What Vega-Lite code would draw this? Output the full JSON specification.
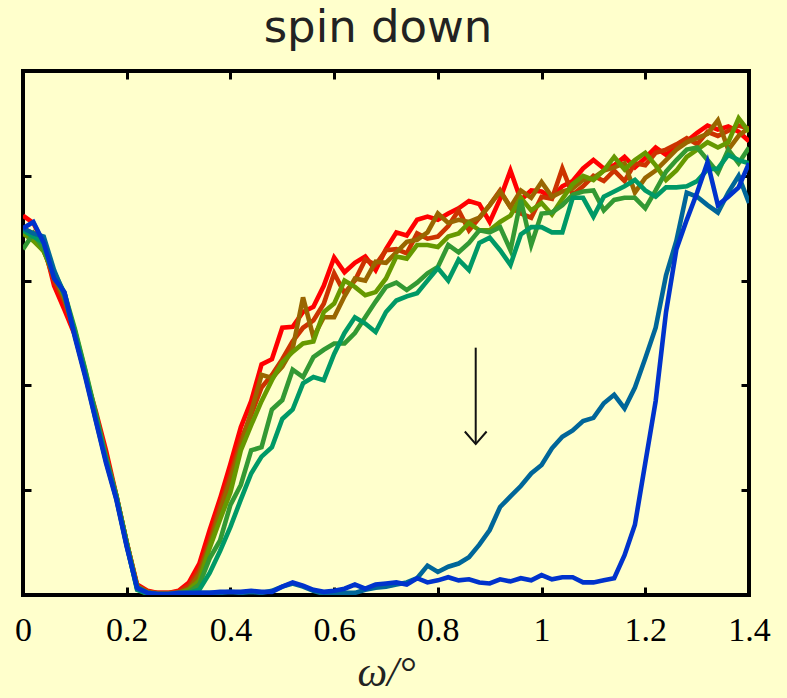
{
  "$schema": "https://vega.github.io/schema/vega-lite/v6.json",
  "width": 726,
  "height": 524,
  "autosize": {"type": "none"},
  "padding": {"left": 23, "top": 71, "right": 38, "bottom": 103},
  "background": "#FFFFCC",
  "config": {
    "view": {"stroke": "#000000", "strokeWidth": 4},
    "axis": {"grid": false, "domain": false, "tickColor": "#000000", "tickWidth": 3, "tickSize": -8}
  },
  "title": {"text": "spin down", "font": "DejaVu Sans", "fontSize": 45, "fontWeight": "normal", "color": "#222222", "baseline": "alphabetic", "offset": -17, "anchor": "middle", "dx": -8},
  "datasets": {
    "curves": [
      {"x":0.00,"s1":3.62,"s2":3.5,"s3":3.45,"s4":3.45,"s5":3.3,"s6":3.48,"s7":3.5,"s8":3.5},
      {"x":0.02,"s1":3.55,"s2":3.45,"s3":3.4,"s4":3.38,"s5":3.45,"s6":3.42,"s7":3.45,"s8":3.56},
      {"x":0.04,"s1":3.35,"s2":3.3,"s3":3.28,"s4":3.28,"s5":3.3,"s6":3.36,"s7":3.42,"s8":3.36},
      {"x":0.06,"s1":2.95,"s2":3.0,"s3":3.05,"s4":3.05,"s5":3.05,"s6":3.08,"s7":3.1,"s8":3.02},
      {"x":0.08,"s1":2.72,"s2":2.8,"s3":2.82,"s4":2.85,"s5":2.88,"s6":2.88,"s7":2.86,"s8":2.89},
      {"x":0.10,"s1":2.48,"s2":2.5,"s3":2.52,"s4":2.52,"s5":2.54,"s6":2.5,"s7":2.48,"s8":2.46},
      {"x":0.12,"s1":2.1,"s2":2.12,"s3":2.12,"s4":2.14,"s5":2.15,"s6":2.12,"s7":2.1,"s8":2.08},
      {"x":0.14,"s1":1.76,"s2":1.72,"s3":1.72,"s4":1.72,"s5":1.74,"s6":1.7,"s7":1.68,"s8":1.67},
      {"x":0.16,"s1":1.38,"s2":1.33,"s3":1.3,"s4":1.3,"s5":1.32,"s6":1.29,"s7":1.28,"s8":1.26},
      {"x":0.18,"s1":0.95,"s2":0.95,"s3":0.94,"s4":0.94,"s5":0.95,"s6":0.93,"s7":0.92,"s8":0.91},
      {"x":0.20,"s1":0.5,"s2":0.5,"s3":0.5,"s4":0.49,"s5":0.5,"s6":0.48,"s7":0.47,"s8":0.46},
      {"x":0.22,"s1":0.1,"s2":0.09,"s3":0.08,"s4":0.08,"s5":0.07,"s6":0.05,"s7":0.06,"s8":0.07},
      {"x":0.24,"s1":0.04,"s2":0.03,"s3":0.03,"s4":0.02,"s5":0.01,"s6":0.01,"s7":0.02,"s8":0.02},
      {"x":0.26,"s1":0.02,"s2":0.02,"s3":0.01,"s4":0.01,"s5":0,"s6":0,"s7":0.01,"s8":0.01},
      {"x":0.28,"s1":0.02,"s2":0.02,"s3":0.01,"s4":0.01,"s5":0,"s6":0,"s7":0.01,"s8":0.01},
      {"x":0.30,"s1":0.04,"s2":0.03,"s3":0.02,"s4":0.02,"s5":0.01,"s6":0,"s7":0.01,"s8":0.02},
      {"x":0.32,"s1":0.12,"s2":0.09,"s3":0.06,"s4":0.05,"s5":0.03,"s6":0.02,"s7":0.01,"s8":0.02},
      {"x":0.34,"s1":0.3,"s2":0.24,"s3":0.2,"s4":0.14,"s5":0.1,"s6":0.05,"s7":0.02,"s8":0.02},
      {"x":0.36,"s1":0.62,"s2":0.52,"s3":0.48,"s4":0.45,"s5":0.35,"s6":0.21,"s7":0.02,"s8":0.02},
      {"x":0.38,"s1":0.92,"s2":0.85,"s3":0.8,"s4":0.72,"s5":0.52,"s6":0.42,"s7":0.02,"s8":0.03},
      {"x":0.40,"s1":1.25,"s2":1.15,"s3":1.1,"s4":0.98,"s5":0.86,"s6":0.65,"s7":0.03,"s8":0.03},
      {"x":0.42,"s1":1.6,"s2":1.48,"s3":1.42,"s4":1.38,"s5":1.05,"s6":0.91,"s7":0.02,"s8":0.03},
      {"x":0.44,"s1":1.85,"s2":1.72,"s3":1.75,"s4":1.62,"s5":1.38,"s6":1.16,"s7":0.03,"s8":0.04},
      {"x":0.46,"s1":2.2,"s2":1.98,"s3":2.1,"s4":1.85,"s5":1.41,"s6":1.32,"s7":0.02,"s8":0.03},
      {"x":0.48,"s1":2.25,"s2":2.1,"s3":2.07,"s4":2.05,"s5":1.77,"s6":1.41,"s7":0.04,"s8":0.03},
      {"x":0.50,"s1":2.55,"s2":2.25,"s3":2.18,"s4":2.22,"s5":1.86,"s6":1.68,"s7":0.08,"s8":0.08},
      {"x":0.52,"s1":2.56,"s2":2.42,"s3":2.35,"s4":2.32,"s5":2.15,"s6":1.77,"s7":0.11,"s8":0.12},
      {"x":0.54,"s1":2.7,"s2":2.55,"s3":2.84,"s4":2.4,"s5":2.08,"s6":2.02,"s7":0.08,"s8":0.09},
      {"x":0.56,"s1":2.75,"s2":2.62,"s3":2.46,"s4":2.42,"s5":2.27,"s6":2.08,"s7":0.04,"s8":0.05},
      {"x":0.58,"s1":2.95,"s2":2.78,"s3":2.65,"s4":2.7,"s5":2.34,"s6":2.05,"s7":0.01,"s8":0.03},
      {"x":0.60,"s1":3.22,"s2":3.07,"s3":2.65,"s4":2.78,"s5":2.4,"s6":2.3,"s7":0.01,"s8":0.04},
      {"x":0.62,"s1":3.08,"s2":2.88,"s3":2.85,"s4":3.0,"s5":2.4,"s6":2.5,"s7":0.02,"s8":0.06},
      {"x":0.64,"s1":3.17,"s2":3.0,"s3":3.02,"s4":2.94,"s5":2.5,"s6":2.65,"s7":0.02,"s8":0.1},
      {"x":0.66,"s1":3.23,"s2":3.2,"s3":3.0,"s4":2.86,"s5":2.65,"s6":2.59,"s7":0.05,"s8":0.06},
      {"x":0.68,"s1":3.1,"s2":3.15,"s3":3.18,"s4":2.89,"s5":2.8,"s6":2.51,"s7":0.07,"s8":0.1},
      {"x":0.70,"s1":3.3,"s2":3.29,"s3":3.17,"s4":3.02,"s5":2.94,"s6":2.7,"s7":0.08,"s8":0.11},
      {"x":0.72,"s1":3.46,"s2":3.3,"s3":3.27,"s4":3.23,"s5":2.98,"s6":2.81,"s7":0.1,"s8":0.12},
      {"x":0.74,"s1":3.43,"s2":3.26,"s3":3.37,"s4":3.21,"s5":2.91,"s6":2.85,"s7":0.12,"s8":0.1},
      {"x":0.76,"s1":3.58,"s2":3.45,"s3":3.39,"s4":3.34,"s5":2.98,"s6":2.88,"s7":0.16,"s8":0.16},
      {"x":0.78,"s1":3.61,"s2":3.4,"s3":3.46,"s4":3.34,"s5":3.07,"s6":3.0,"s7":0.28,"s8":0.12},
      {"x":0.80,"s1":3.58,"s2":3.42,"s3":3.64,"s4":3.32,"s5":3.13,"s6":3.12,"s7":0.22,"s8":0.14},
      {"x":0.82,"s1":3.64,"s2":3.52,"s3":3.55,"s4":3.42,"s5":3.34,"s6":3.0,"s7":0.27,"s8":0.17},
      {"x":0.84,"s1":3.69,"s2":3.67,"s3":3.58,"s4":3.45,"s5":3.27,"s6":3.2,"s7":0.3,"s8":0.14},
      {"x":0.86,"s1":3.76,"s2":3.48,"s3":3.56,"s4":3.55,"s5":3.36,"s6":3.1,"s7":0.36,"s8":0.15},
      {"x":0.88,"s1":3.73,"s2":3.6,"s3":3.6,"s4":3.48,"s5":3.48,"s6":3.36,"s7":0.48,"s8":0.12},
      {"x":0.90,"s1":3.56,"s2":3.72,"s3":3.72,"s4":3.48,"s5":3.46,"s6":3.41,"s7":0.62,"s8":0.11},
      {"x":0.92,"s1":3.78,"s2":3.86,"s3":3.85,"s4":3.56,"s5":3.51,"s6":3.29,"s7":0.84,"s8":0.15},
      {"x":0.94,"s1":4.05,"s2":3.7,"s3":3.7,"s4":3.62,"s5":3.29,"s6":3.15,"s7":0.94,"s8":0.13},
      {"x":0.96,"s1":3.77,"s2":3.64,"s3":3.86,"s4":3.79,"s5":3.77,"s6":3.44,"s7":1.04,"s8":0.16},
      {"x":0.98,"s1":3.86,"s2":3.6,"s3":3.79,"s4":3.67,"s5":3.34,"s6":3.51,"s7":1.16,"s8":0.14},
      {"x":1.00,"s1":3.85,"s2":3.8,"s3":3.94,"s4":3.74,"s5":3.64,"s6":3.51,"s7":1.24,"s8":0.19},
      {"x":1.02,"s1":3.79,"s2":3.78,"s3":3.8,"s4":3.63,"s5":3.65,"s6":3.46,"s7":1.4,"s8":0.15},
      {"x":1.04,"s1":3.9,"s2":4.07,"s3":3.85,"s4":3.78,"s5":3.72,"s6":3.46,"s7":1.51,"s8":0.17},
      {"x":1.06,"s1":3.95,"s2":3.82,"s3":3.88,"s4":3.92,"s5":3.82,"s6":3.79,"s7":1.57,"s8":0.17},
      {"x":1.08,"s1":4.07,"s2":3.9,"s3":3.96,"s4":4.0,"s5":3.85,"s6":3.79,"s7":1.66,"s8":0.12},
      {"x":1.10,"s1":4.15,"s2":4.0,"s3":3.98,"s4":3.96,"s5":3.86,"s6":3.61,"s7":1.69,"s8":0.12},
      {"x":1.12,"s1":4.07,"s2":3.95,"s3":4.05,"s4":4.05,"s5":3.67,"s6":3.8,"s7":1.83,"s8":0.14},
      {"x":1.14,"s1":4.1,"s2":4.05,"s3":4.08,"s4":4.18,"s5":3.77,"s6":3.85,"s7":1.91,"s8":0.16},
      {"x":1.16,"s1":4.18,"s2":3.95,"s3":4.12,"s4":4.06,"s5":3.79,"s6":3.9,"s7":1.78,"s8":0.38},
      {"x":1.18,"s1":4.08,"s2":4.12,"s3":3.84,"s4":4.15,"s5":3.79,"s6":3.96,"s7":1.98,"s8":0.67},
      {"x":1.20,"s1":4.17,"s2":4.1,"s3":3.98,"s4":4.22,"s5":3.69,"s6":3.86,"s7":2.26,"s8":1.26},
      {"x":1.22,"s1":4.27,"s2":4.22,"s3":4.05,"s4":4.1,"s5":3.86,"s6":3.8,"s7":2.55,"s8":1.85},
      {"x":1.24,"s1":4.2,"s2":4.25,"s3":4.15,"s4":3.96,"s5":4.04,"s6":3.89,"s7":3.05,"s8":2.7},
      {"x":1.26,"s1":4.29,"s2":4.3,"s3":4.25,"s4":4.05,"s5":4.15,"s6":3.89,"s7":3.38,"s8":3.3},
      {"x":1.28,"s1":4.33,"s2":4.36,"s3":4.32,"s4":4.18,"s5":4.25,"s6":3.9,"s7":3.84,"s8":3.58},
      {"x":1.30,"s1":4.41,"s2":4.3,"s3":4.36,"s4":4.25,"s5":4.27,"s6":3.95,"s7":3.8,"s8":3.84},
      {"x":1.32,"s1":4.48,"s2":4.42,"s3":4.4,"s4":4.32,"s5":4.15,"s6":4.06,"s7":3.72,"s8":4.13},
      {"x":1.34,"s1":4.44,"s2":4.38,"s3":4.53,"s4":4.27,"s5":4.03,"s6":4.07,"s7":3.65,"s8":3.72},
      {"x":1.36,"s1":4.47,"s2":4.43,"s3":4.25,"s4":4.32,"s5":4.25,"s6":4.2,"s7":3.84,"s8":3.8},
      {"x":1.38,"s1":4.42,"s2":4.48,"s3":4.38,"s4":4.55,"s5":4.12,"s6":4.15,"s7":4.0,"s8":3.89},
      {"x":1.40,"s1":4.33,"s2":4.45,"s3":4.46,"s4":4.42,"s5":4.27,"s6":4.12,"s7":3.74,"s8":4.12}
    ],
    "shaft": [{"x": 0.873, "y": 2.36, "y2": 1.44}],
    "head": [
      {"x": 0.852, "y": 1.56, "k": 1},
      {"x": 0.873, "y": 1.44, "k": 2},
      {"x": 0.894, "y": 1.56, "k": 3}
    ]
  },
  "layer": [
    {
      "data": {"name": "curves"},
      "transform": [{"fold": ["s1", "s2", "s3", "s4", "s5", "s6", "s7", "s8"], "as": ["series", "value"]}],
      "mark": {"type": "line", "strokeWidth": 4.6, "clip": true, "strokeJoin": "miter"},
      "encoding": {
        "x": {
          "field": "x", "type": "quantitative",
          "scale": {"domain": [0, 1.4], "nice": false},
          "axis": {
            "orient": "bottom",
            "values": [0, 0.2, 0.4, 0.6, 0.8, 1, 1.2, 1.4],
            "format": "~g",
            "labelFont": "Liberation Serif",
            "labelFontSize": 34,
            "labelColor": "#000000",
            "labelPadding": 26,
            "labelFlush": false,
            "labelOverlap": false,
            "title": "ω/°",
            "titleFont": "Liberation Serif",
            "titleFontSize": 42,
            "titleFontStyle": "italic",
            "titleFontWeight": "normal",
            "titleColor": "#222222",
            "titlePadding": 5
          }
        },
        "y": {
          "field": "value", "type": "quantitative",
          "scale": {"domain": [0, 5], "nice": false},
          "axis": {"orient": "left", "values": [0, 1, 2, 3, 4, 5], "labels": false, "title": null}
        },
        "color": {
          "field": "series", "type": "nominal",
          "scale": {
            "domain": ["s1", "s2", "s3", "s4", "s5", "s6", "s7", "s8"],
            "range": ["#FF0000", "#CC3300", "#996600", "#669900", "#339933", "#009966", "#006699", "#0033CC"]
          },
          "legend": null
        }
      }
    },
    {
      "data": {"name": "shaft"},
      "mark": {"type": "rule", "color": "#111111", "strokeWidth": 2},
      "encoding": {
        "x": {
          "field": "x", "type": "quantitative",
          "axis": {"orient": "top", "values": [0, 0.2, 0.4, 0.6, 0.8, 1, 1.2, 1.4], "labels": false, "title": null}
        },
        "y": {
          "field": "y", "type": "quantitative",
          "axis": {"orient": "right", "values": [0, 1, 2, 3, 4, 5], "labels": false, "title": null}
        },
        "y2": {"field": "y2"}
      }
    },
    {
      "data": {"name": "head"},
      "mark": {"type": "line", "color": "#111111", "strokeWidth": 2},
      "encoding": {
        "x": {"field": "x", "type": "quantitative", "axis": null},
        "y": {"field": "y", "type": "quantitative", "axis": null},
        "order": {"field": "k"}
      }
    }
  ],
  "resolve": {"axis": {"x": "independent", "y": "independent"}}
}
